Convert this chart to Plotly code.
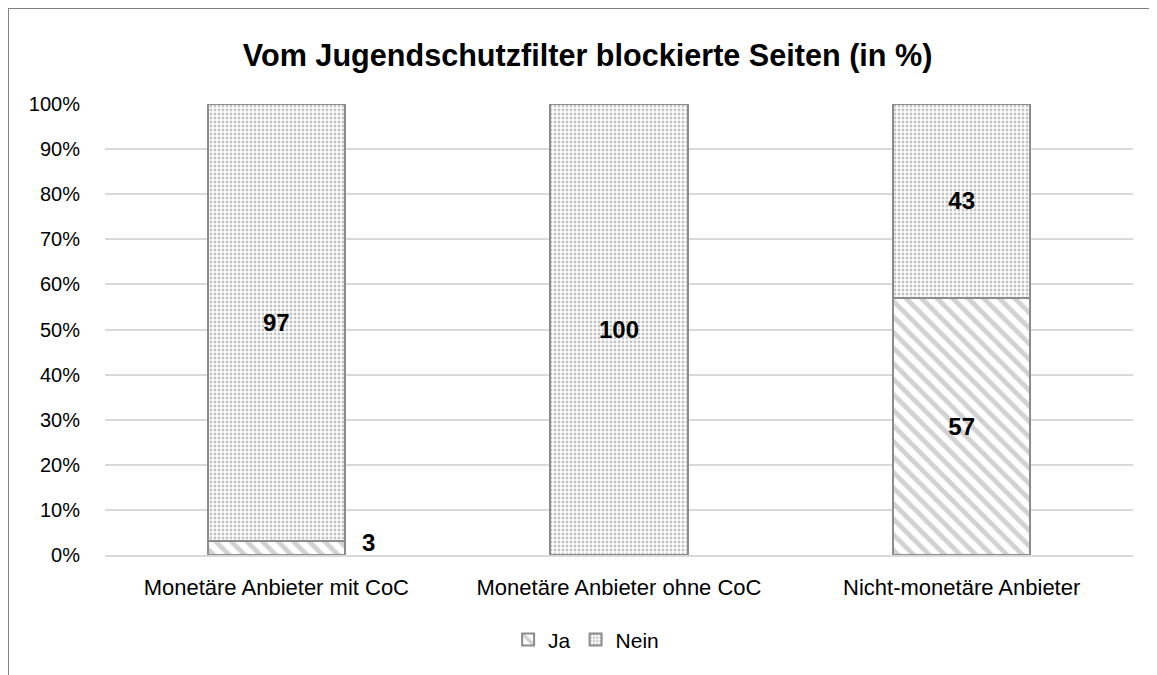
import plotly.graph_objects as go

categories = ["Monetäre Anbieter mit CoC", "Monetäre Anbieter ohne CoC", "Nicht-monetäre Anbieter"]
ja_values = [3, 0, 57]
nein_values = [97, 100, 43]
y_ticks = [0, 10, 20, 30, 40, 50, 60, 70, 80, 90, 100]
y_tick_labels = [f"{t}%" for t in y_ticks]

FONT = "Liberation Sans, Arial, sans-serif"

def inside_text(vals):
    return [str(v) if v >= 10 else "" for v in vals]

fig = go.Figure()
fig.add_trace(go.Bar(
    name="Ja", x=categories, y=ja_values,
    text=inside_text(ja_values), textposition="inside", insidetextanchor="middle",
    textfont=dict(family=FONT, size=24, color="black", weight="bold"),
    marker=dict(color="white", line=dict(color="#8c8c8c", width=2),
                pattern=dict(shape="\\", fgcolor="#a6a6a6", bgcolor="white", size=11, solidity=0.45)),
    width=0.4,
))
fig.add_trace(go.Bar(
    name="Nein", x=categories, y=nein_values,
    text=inside_text(nein_values), textposition="inside", insidetextanchor="middle",
    textfont=dict(family=FONT, size=24, color="black", weight="bold"),
    marker=dict(color="white", line=dict(color="#8c8c8c", width=2),
                pattern=dict(shape=".", fgcolor="#858585", bgcolor="white", size=4, solidity=0.4)),
    width=0.4,
))

# small label outside the bar
for c, v in zip(categories, ja_values):
    if 0 < v < 10:
        fig.add_annotation(x=c, y=v, text=str(v), showarrow=False, xshift=92, yshift=-1,
                           font=dict(family=FONT, size=24, color="black", weight="bold"))

fig.update_layout(
    barmode="stack",
    width=1157, height=675,
    margin=dict(l=97, r=32, t=96, b=128),
    paper_bgcolor="white", plot_bgcolor="white",
    title=dict(text="<b>Vom Jugendschutzfilter blockierte Seiten (in %)</b>",
               x=0.501, xanchor="center", y=0.930, yanchor="middle",
               font=dict(family=FONT, size=30.6, color="black")),
    font=dict(family=FONT, size=21, color="black"),
    legend=dict(orientation="h", x=0.468, xanchor="center", y=-0.188, yanchor="middle",
                font=dict(family=FONT, size=21, color="black"), traceorder="normal",
                itemwidth=30),
    bargap=0.6,
    shapes=[
        dict(type="line", xref="paper", yref="paper", x0=-0.0944, x1=1.04, y0=1.2129, y1=1.2129,
             line=dict(color="#808080", width=2)),
        dict(type="line", xref="paper", yref="paper", x0=-0.0944, x1=-0.0944, y0=1.2129, y1=-0.30,
             line=dict(color="#808080", width=2)),
    ],
)
fig.update_yaxes(range=[0, 100], tickvals=y_ticks, ticktext=y_tick_labels,
                 showgrid=True, gridcolor="#d9d9d9", gridwidth=1.5, zeroline=False,
                 showline=False, ticks="", ticklabelstandoff=24,
                 tickfont=dict(family=FONT, size=20, color="black"))
fig.update_xaxes(showline=True, linecolor="#d9d9d9", linewidth=1.5, ticks="",
                 ticklabelstandoff=12,
                 tickfont=dict(family=FONT, size=22, color="black"))

fig.write_html("out.html")
